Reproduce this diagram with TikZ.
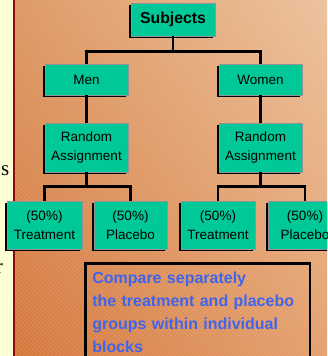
\documentclass[tikz,border=0pt]{standalone}
\usepackage{fontspec}
\setmainfont{Liberation Sans}
\newfontfamily\panelserif{Liberation Serif}
\usepackage{tikz}
\usepackage{xcolor}
\usetikzlibrary{shadows, shadings, positioning}

\definecolor{boxgreen}{RGB}{0,200,150}
\definecolor{noteblue}{RGB}{64,100,235}
\definecolor{panelyellow}{RGB}{255,255,214}
\definecolor{panelred}{RGB}{140,10,10}
\definecolor{bgul}{RGB}{222,152,100}
\definecolor{bgur}{RGB}{236,193,155}
\definecolor{bgll}{RGB}{213,120,60}
\definecolor{bglr}{RGB}{228,160,110}

\tikzset{
    block/.style={draw=gray!85, line width=0.8pt, fill=boxgreen, align=center, inner sep=0pt,
        font=\fontsize{13.5}{19.5}\selectfont,
        drop shadow={shadow xshift=-2.2pt, shadow yshift=-2.2pt, fill=black, opacity=1}},
    link/.style={line width=2.7pt},
    hatchline/.style={white, opacity=0.14, line width=0.5pt}
}

\begin{document}
\begin{tikzpicture}[x=1pt, y=-1pt]
    \useasboundingbox (0,0) rectangle (327,356);
    \begin{scope}
        \clip (0,0) rectangle (327,356);

        % background
        \shade[upper left=bgul, upper right=bgur, lower left=bgll, lower right=bglr]
            (15,0) rectangle (327,356);
        \begin{scope}
            \clip (15,0) rectangle (327,356);
            \foreach \k in {-360,-356,...,330}
                \draw[hatchline] (\k,0) -- (\k+356,356);
        \end{scope}

        % left panel
        \fill[panelyellow] (0,0) rectangle (13,356);
        \draw[panelred, line width=2pt] (14,0) -- (14,356);
        \begin{scope}
            \clip (0,0) rectangle (13,356);
            \node[font=\panelserif\fontsize{21}{24}\selectfont, anchor=base east, inner sep=0pt] (panels) at (9.5,175) {s};
            \node[font=\panelserif\fontsize{21}{24}\selectfont, anchor=base east, inner sep=0pt] (panelr) at (3,273) {r};
        \end{scope}

        \node[block, minimum width=84pt, minimum height=33pt, font=\bfseries\fontsize{15.8}{18}\selectfont] (subj) at (173, 19.5) {Subjects};
        \node[block, minimum width=83pt, minimum height=31pt] (men) at (86.5, 79.5) {Men};
        \node[block, minimum width=83pt, minimum height=31pt] (women) at (260.5, 79.5) {Women};
        \node[block, minimum width=83pt, minimum height=49pt] (randl) at (86.5, 147.5) {Random\\Assignment};
        \node[block, minimum width=83pt, minimum height=49pt] (randr) at (260.5, 147.5) {Random\\Assignment};
        \node[block, minimum width=75pt, minimum height=48pt] (treatl) at (44.5, 225) {(50\%)\\Treatment};
        \node[block, minimum width=73pt, minimum height=48pt] (placl) at (130.5, 225) {(50\%)\\Placebo};
        \node[block, minimum width=74pt, minimum height=48pt] (treatr) at (218, 225) {(50\%)\\Treatment};
        \node[block, minimum width=74pt, minimum height=48pt] (placr) at (305, 225) {(50\%)\\Placebo};

        \draw[link] (subj.south) -- ++(0,16);
        \draw[link] (men.north) -- ++(0,-12) -| (women.north);
        \draw[link] (men.south) -- (randl.north);
        \draw[link] (women.south) -- (randr.north);
        \draw[link] (randl.south) -- ++(0,15);
        \draw[link] (randr.south) -- ++(0,15);
        \draw[link] (treatl.north) -- ++(0,-14) -| (placl.north);
        \draw[link] (treatr.north) -- ++(0,-14) -| (placr.north);

        \node[draw=black, line width=2.6pt, anchor=north west, text width=210.5pt, inner xsep=7pt, inner ysep=8.5pt,
              align=left, text=noteblue, font=\bfseries\fontsize{16}{23}\selectfont] (note) at (84,262)
            {Compare separately\\the treatment and placebo\\groups within individual\\blocks};
    \end{scope}
\end{tikzpicture}
\end{document}
